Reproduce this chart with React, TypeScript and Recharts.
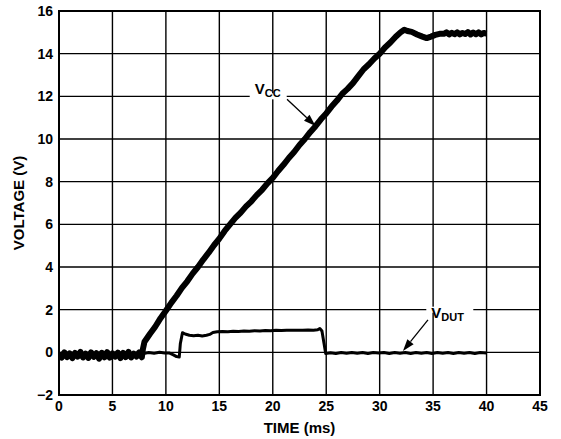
import React from 'react';
import {
  LineChart,
  Line,
  XAxis,
  YAxis,
  CartesianGrid,
  ReferenceArea,
  ReferenceDot,
  ReferenceLine,
} from 'recharts';

// time axis (ms) and voltage axis (V) ticks
const timeTicks = [0, 5, 10, 15, 20, 25, 30, 35, 40, 45];
const voltTicks = [-2, 0, 2, 4, 6, 8, 10, 12, 14, 16];

// VCC trace
const vccTime = [
  0, 0.25, 0.5, 0.75, 1, 1.25, 1.5, 1.75, 2, 2.25, 2.5, 2.75, 3, 3.25, 3.5, 3.75,
  4, 4.25, 4.5, 4.75, 5, 5.25, 5.5, 5.75, 6, 6.25, 6.5, 6.75, 7, 7.25, 7.5, 7.75,
  7.85, 8, 8.5, 9, 9.5, 10, 10.5, 11, 11.5, 12, 12.5, 13, 13.5, 14, 14.5, 15,
  15.5, 16, 16.5, 17, 17.5, 18, 18.5, 19, 19.5, 20, 20.5, 21, 21.5, 22, 22.5, 23,
  23.5, 24, 24.5, 25, 25.5, 26, 26.5, 27, 27.5, 28, 28.5, 29, 29.5, 30, 30.5, 31,
  31.5, 32, 32.3, 32.6, 33, 33.5, 34, 34.4, 34.8, 35.2, 35.6, 36, 36.25, 36.5,
  36.75, 37, 37.25, 37.5, 37.75, 38, 38.25, 38.5, 38.75, 39, 39.25, 39.5, 39.75, 40,
];
const vccVolts = [
  -0.02, -0.25, 0.0, -0.22, -0.05, -0.27, -0.03, -0.2, 0.02, -0.24, -0.06, -0.26, 0.0, -0.21, -0.04, -0.3,
  -0.02, -0.23, 0.01, -0.25, -0.05, -0.2, -0.01, -0.27, -0.03, -0.22, 0.02, -0.24, -0.06, -0.2, 0.0, -0.23,
  0.15, 0.5, 0.86, 1.2, 1.6, 1.95, 2.32, 2.65, 3.02, 3.33, 3.69, 4.0, 4.35, 4.67, 5.02, 5.33,
  5.69, 6.0, 6.3, 6.55, 6.84, 7.08, 7.37, 7.62, 7.92, 8.18, 8.5, 8.79, 9.11, 9.39, 9.72, 10.0,
  10.32, 10.6, 10.92, 11.2, 11.52, 11.8, 12.12, 12.35, 12.62, 12.95, 13.27, 13.5, 13.77, 14.0, 14.29, 14.52,
  14.79, 15.02, 15.12, 15.06, 15.02, 14.9, 14.8, 14.73, 14.8, 14.88, 14.93, 14.93, 15.0, 14.9,
  14.98, 14.91, 15.0, 14.9, 14.97, 14.92, 15.01, 14.9, 14.99, 14.91, 15.0, 14.9, 14.97, 14.94,
];

// VDUT trace
const dutTime = [
  0, 0.5, 1, 1.5, 2, 2.5, 3, 3.5, 4, 4.5, 5, 5.5, 6, 6.5, 7, 7.5,
  7.9, 8.4, 8.9, 9.4, 9.9, 10.3, 10.7, 11, 11.25, 11.35, 11.55, 11.8, 12.2, 12.6, 13, 13.4,
  13.8, 14.1, 14.4, 14.8, 15.3, 15.8, 16.3, 16.8, 17.3, 17.8, 18.3, 18.8, 19.3, 19.8, 20.3, 20.8,
  21.3, 21.8, 22.3, 22.8, 23.3, 23.8, 24.2, 24.4, 24.6, 24.8, 24.95, 25.4, 25.9, 26.4, 26.9, 27.4,
  27.9, 28.4, 28.9, 29.4, 29.9, 30.4, 30.9, 31.4, 31.9, 32.4, 32.9, 33.4, 33.9, 34.4, 34.9, 35.4,
  35.9, 36.4, 36.9, 37.4, 37.9, 38.4, 38.9, 39.4, 40,
];
const dutVolts = [
  -0.08, -0.18, -0.06, -0.2, -0.1, -0.17, -0.05, -0.2, -0.09, -0.16, -0.06, -0.19, -0.1, -0.15, -0.07, -0.18,
  -0.05, -0.01, -0.04, 0.0, -0.03, -0.03, -0.12, -0.2, -0.22, 0.4, 0.92, 0.86, 0.8, 0.78, 0.8, 0.77,
  0.8, 0.84, 0.93, 0.96, 0.98, 0.96, 0.99, 0.98, 1.0, 0.99, 1.01, 1.0, 1.02, 1.01, 1.03, 1.02,
  1.04, 1.03, 1.04, 1.03, 1.05, 1.04, 1.06, 1.12, 1.0, 0.4, -0.05, -0.02, -0.05, -0.01, -0.04, -0.01,
  -0.04, -0.01, -0.05, -0.01, -0.03, -0.01, -0.05, -0.01, -0.04, -0.01, -0.05, -0.01, -0.04, -0.01, -0.05, -0.01,
  -0.04, -0.01, -0.05, -0.01, -0.04, -0.01, -0.05, -0.01, -0.03,
];

const vccData = vccTime.map((t, i) => ({ t, v: vccVolts[i] }));
const dutData = dutTime.map((t, i) => ({ t, v: dutVolts[i] }));

const FONT = '"Liberation Sans", Arial, sans-serif';
const tickStyle = { fill: '#000', fontSize: 14, fontWeight: 700, fontFamily: FONT };

const fmt = (v: number) => (v < 0 ? `\u2212${-v}` : `${v}`);

// label with a white patch that breaks the grid line
const SubLabel = ({ cx, cy, main, sub, padLeft, width, dy }: any) => (
  <g>
    <rect x={cx - padLeft} y={cy - 3} width={width} height={6} fill="#fff" />
    <text x={cx} y={cy + dy} fill="#000" fontFamily={FONT} fontWeight={700} fontSize={15}>
      {main}
      <tspan fontSize={11} dy={3}>{sub}</tspan>
    </text>
  </g>
);

const Arrow = ({ x1, y1, x2, y2 }: any) => {
  const ang = Math.atan2(y2 - y1, x2 - x1);
  const len = 12;
  const hw = 4;
  const bx = x2 - len * Math.cos(ang);
  const by = y2 - len * Math.sin(ang);
  const px = -Math.sin(ang) * hw;
  const py = Math.cos(ang) * hw;
  return (
    <g>
      <line x1={x1} y1={y1} x2={bx} y2={by} stroke="#000" strokeWidth={1.3} />
      <polygon points={`${x2},${y2} ${bx + px},${by + py} ${bx - px},${by - py}`} fill="#000" />
    </g>
  );
};

export default function App() {
  return (
    <div style={{ position: 'absolute', left: 0, top: 0, width: 561, height: 439, background: '#fff' }}>
      <LineChart width={561} height={439} margin={{ top: 11, right: 21, bottom: 0, left: 0 }}>
        <CartesianGrid stroke="#000" strokeWidth={1.4} />
        <XAxis
          type="number"
          dataKey="t"
          domain={[0, 45]}
          ticks={timeTicks}
          allowDataOverflow
          height={44}
          axisLine={false}
          tickLine={false}
          tickSize={4}
          tickMargin={2}
          tick={tickStyle}
          label={{ value: 'TIME (ms)', position: 'insideBottom', offset: 6, style: { ...tickStyle, fontSize: 15 } }}
        />
        <YAxis
          type="number"
          domain={[-2, 16]}
          ticks={voltTicks}
          allowDataOverflow
          width={59}
          axisLine={false}
          tickLine={false}
          tickSize={4}
          tickMargin={2}
          tick={tickStyle}
          tickFormatter={fmt}
          label={{
            value: 'VOLTAGE (V)',
            angle: -90,
            position: 'insideLeft',
            offset: 19,
            style: { ...tickStyle, fontSize: 15, textAnchor: 'middle' },
          }}
        />
        <ReferenceArea x1={0} x2={45} y1={-2} y2={16} fill="none" fillOpacity={0} stroke="#000" strokeWidth={2} />
        <Line
          data={dutData}
          dataKey="v"
          stroke="#000"
          strokeWidth={3}
          dot={false}
          strokeLinejoin="round"
          isAnimationActive={false}
        />
        <Line
          data={vccData}
          dataKey="v"
          stroke="#000"
          strokeWidth={6}
          dot={false}
          strokeLinejoin="round"
          isAnimationActive={false}
        />
        <ReferenceDot
          x={18.31}
          y={12}
          r={0}
          shape={(p: any) => <SubLabel {...p} main="V" sub="CC" padLeft={5} width={37} dy={-2} />}
        />
        <ReferenceLine
          segment={[{ x: 21.33, y: 11.86 }, { x: 24.0, y: 10.61 }]}
          shape={(p: any) => <Arrow {...p} />}
        />
        <ReferenceDot
          x={34.83}
          y={2}
          r={0}
          shape={(p: any) => <SubLabel {...p} main="V" sub="DUT" padLeft={5} width={47} dy={8} />}
        />
        <ReferenceLine
          segment={[{ x: 34.52, y: 1.52 }, { x: 32.18, y: 0.06 }]}
          shape={(p: any) => <Arrow {...p} />}
        />
      </LineChart>
    </div>
  );
}
